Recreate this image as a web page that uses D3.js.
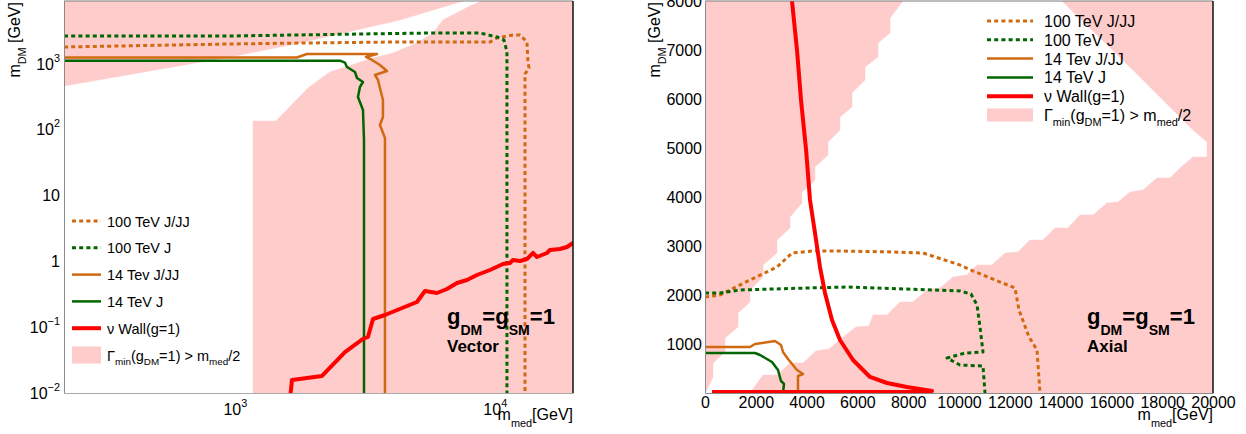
<!DOCTYPE html>
<html><head><meta charset="utf-8">
<script src="https://cdn.jsdelivr.net/npm/d3@7"></script>
<style>
body{margin:0;background:#fff}
text{font-family:"Liberation Sans",Arial,Helvetica,sans-serif;fill:#000}
</style>
</head><body>
<svg id="c" width="1246" height="434"></svg>
<script>
// ---------------- DATA ----------------
// Left panel (Vector), log-log, [m_med, m_DM] in GeV
const vecWidthRegionA = [[220,8800],[220,453],[957,1246],[1780,2032],[4317,4537],[7543,8800]];
const vecWidthRegionB = [[8928,8800],[8025,7392],[6320,4537],[5783,2879],[5018,2032],[4058,1432],[3399,1203],[2322,738],[1911,422],[1439,133],[1174,133],[1174,0.01],[20000,0.01],[20000,8800]];
const vec100JJJ = [[220,1766],[957,1962],[1894,2032],[4203,2104],[9583,2104],[10195,2421],[11750,2687],[12500,2687],[13298,2104],[13420,1046],[13550,849],[13070,688],[13070,0.01]];
const vec100J = [[220,2594],[957,2594],[3111,2782],[5630,2879],[8770,2879],[10195,2505],[10850,2256],[11140,1500],[11140,0.01]];
const vec14JJJ = [[220,1225],[1734,1225],[1894,1384],[3521,1384],[3194,1246],[3370,1122],[3615,943],[3847,764],[3459,665],[3553,558],[3615,422],[3713,277],[3713,153],[3615,116],[3780,73.6],[3780,0.01]];
const vec14J = [[220,1095],[2538,1095],[2652,1021],[2700,879],[2898,738],[2950,598],[3111,520],[3028,437],[2976,308],[3111,196],[3139,68.7],[3139,0.01]];
const vecNuWall = [[1629,0.008],[1658,0.01574],[2164,0.01811],[2652,0.04184],[3111,0.06591],[3252,0.07069],[3399,0.1325],[3780,0.1524],[5018,0.2399],[5388,0.3523],[5992,0.3285],[6548,0.3778],[7152,0.4658],[7816,0.5172],[8541,0.6158],[9583,0.7333],[10753,0.9045],[11440,0.9366],[11750,1.040],[12500,1.004],[13298,1.077],[14030,1.328],[14530,1.155],[15880,1.328],[16300,1.474],[17810,1.526],[18950,1.637],[20000,1.883]];

// Right panel (Axial), linear, [m_med, m_DM] in GeV
const axWidthRegionA = [[0,8000],[7795,8000],[7283,7653],[7283,7347],[6811,7143],[6811,6857],[6299,6653],[6299,6388],[5787,6122],[5787,5837],[5315,5633],[5315,5367],[4843,5122],[4843,4857],[4331,4612],[4331,4347],[3819,4102],[3819,3878],[3346,3592],[3346,3367],[2835,3122],[2835,2857],[2283,2612],[2283,2367],[1772,2102],[1772,1857],[1299,1633],[1299,1347],[787,1122],[787,837],[315,612],[315,327],[79,61],[0,0]];
const axWidthRegionB = [[1772,0],[2283,367],[2835,367],[3346,612],[3858,612],[4370,857],[4882,898],[5394,1122],[5945,1347],[6457,1367],[6614,1592],[7165,1592],[7677,1857],[8189,1857],[8740,2102],[9252,2143],[9764,2367],[10315,2408],[10709,2612],[11299,2612],[11811,2857],[12323,2878],[12795,3122],[13307,3122],[13780,3367],[14291,3367],[14764,3633],[15276,3633],[15827,3878],[16260,3898],[16732,4102],[17244,4143],[17795,4388],[18307,4388],[18701,4592],[19213,4816],[19764,4816],[19764,5122],[19213,5367],[16929,6551],[14055,8000],[20000,8000],[20000,0]];
const ax100JJJ = [[0,1959],[591,2000],[1772,2306],[2835,2571],[3425,2857],[4252,2898],[5315,2898],[7402,2878],[8583,2857],[10039,2612],[10551,2490],[12205,2143],[12362,1694],[12756,1143],[13071,878],[13189,0]];
const ax100J = [[0,2041],[591,2041],[1378,2102],[4016,2143],[5591,2163],[7953,2122],[10039,2082],[10472,2020],[10709,1796],[10827,1347],[10945,837],[10236,816],[9528,714],[10039,571],[10945,551],[11024,0]];
const ax14JJJ = [[0,939],[1772,939],[1969,1000],[2756,1061],[2992,980],[3071,837],[3268,694],[3622,469],[3858,388],[3661,347],[3661,0]];
const ax14J = [[0,816],[1969,816],[2165,776],[2638,633],[2874,469],[2992,245],[3110,184],[3071,0]];
const axNuWall = [[3425,8000],[3622,7000],[3780,5980],[3980,4960],[4134,3939],[4331,3265],[4528,2571],[4724,2041],[5000,1490],[5315,1082],[5827,673],[6496,327],[7165,204],[7953,122],[8937,41],[8500,25],[276,20]];

// Axis ticks
const leftXTicks = [1000, 10000];
const leftXTickLabels = [["10","3"],["10","4"]];
const leftYTicks = [0.01, 0.1, 1, 10, 100, 1000];
const leftYTickLabels = [["10","\u22122"],["10","\u22121"],["1",""],["10",""],["10","2"],["10","3"]];
const rightXTicks = [0,2000,4000,6000,8000,10000,12000,14000,16000,18000,20000];
const rightYTicks = [1000,2000,3000,4000,5000,6000,7000,8000];

// Legend
const legendLabels = ["100 TeV J/JJ","100 TeV J","14 Tev J/JJ","14 TeV J","\u03BD Wall(g=1)"];
const legendKeys = ["o100","g100","o14","g14","red"];

// ---------------- STYLE ----------------
const PINK = "#ffcccc", ORANGE = "#d0690f", GREEN = "#006600", RED = "#ff0000";
const styles = {
  o100:{stroke:ORANGE,width:3,dash:"4,3.2"},
  g100:{stroke:GREEN,width:3,dash:"4,3.2"},
  o14:{stroke:ORANGE,width:2.5,dash:null},
  g14:{stroke:GREEN,width:2.5,dash:null},
  red:{stroke:RED,width:4,dash:null}
};

const svg = d3.select("#c");

function rich(sel, parts, size, o){
  o = Object.assign({sub:0.35, sup:0.45, small:0.7}, o||{});
  sel.text(null);
  let cur = 0;
  parts.forEach(([s,k])=>{
    if(!s) return;
    const off = k==="sub" ? size*o.sub : k==="sup" ? -size*o.sup : 0;
    const fs = k==="n" ? size : size*o.small;
    sel.append("tspan").attr("dy", off-cur).style("font-size", fs+"px").text(s);
    cur = off;
  });
  return sel;
}

function drawPanel(cfg){
  const g = svg.append("g");
  const {x, y} = cfg;
  const [x0,x1] = x.range(), [y0,y1] = y.range();
  const clipId = "clip"+cfg.id;
  svg.append("defs").append("clipPath").attr("id",clipId)
    .append("rect").attr("x",x0).attr("y",y1).attr("width",x1-x0).attr("height",y0-y1);
  const plot = g.append("g").attr("clip-path",`url(#${clipId})`);
  const line = d3.line().x(d=>x(d[0])).y(d=>y(d[1]));
  cfg.regions.forEach(r=>{
    plot.append("path").attr("d", line(r)+"Z").attr("fill",PINK).attr("stroke",PINK).attr("stroke-width",0.5);
  });
  cfg.curves.forEach(([data,key])=>{
    const s = styles[key];
    plot.append("path").attr("d", line(data)).attr("fill","none")
      .attr("stroke",s.stroke).attr("stroke-width",s.width)
      .attr("stroke-dasharray",s.dash).attr("stroke-linejoin","round");
  });
  // frame
  g.append("line").attr("x1",x0).attr("x2",x1).attr("y1",y1).attr("y2",y1).attr("stroke","#7a7a7a").attr("stroke-width",1);
  g.append("line").attr("x1",x1).attr("x2",x1).attr("y1",y1).attr("y2",y0).attr("stroke","#111").attr("stroke-width",1.5);
  return g;
}

// ---------------- LEFT PANEL ----------------
const xL = d3.scaleLog().domain([220,20000]).range([64,573]);
const yL = d3.scaleLog().domain([0.01,8800]).range([393,1]);
const gL = drawPanel({id:"L", x:xL, y:yL,
  regions:[vecWidthRegionA, vecWidthRegionB],
  curves:[[vec100JJJ,"o100"],[vec100J,"g100"],[vec14JJJ,"o14"],[vec14J,"g14"],[vecNuWall,"red"]]});

const axLx = gL.append("g").attr("transform","translate(0,393)")
  .call(d3.axisBottom(xL).tickValues(leftXTicks).tickSize(0).tickFormat(""));
axLx.select(".domain").attr("stroke","#aaa");
axLx.selectAll(".tick text").each(function(d,i){
  const t = d3.select(this).attr("y",22).attr("dy",null).attr("text-anchor","middle");
  rich(t, [[leftXTickLabels[i][0],"n"],[leftXTickLabels[i][1],"sup"]], 16, {sup:0.5, small:0.68});
});
const axLy = gL.append("g").attr("transform","translate(64,0)")
  .call(d3.axisLeft(yL).tickValues(leftYTicks).tickSize(0).tickFormat(""));
axLy.select(".domain").attr("stroke","#8a8a8a");
axLy.selectAll(".tick text").each(function(d,i){
  const t = d3.select(this).attr("x",-4).attr("dy","0.36em").attr("text-anchor","end");
  rich(t, [[leftYTickLabels[i][0],"n"],[leftYTickLabels[i][1],"sup"]], 16, {sup:0.5, small:0.68});
  t.select("tspan").attr("dy","0.36em");
});
// axis titles
rich(gL.append("text").attr("transform","translate(20,2) rotate(-90)").attr("text-anchor","end"),
  [["m","n"],["DM","sub"],[" [GeV]","n"]], 16, {sub:0.4, small:0.68});
rich(gL.append("text").attr("x",573).attr("y",420).attr("text-anchor","end"),
  [["m","n"],["med","sub"],["[GeV]","n"]], 16, {sub:0.45, small:0.68});
// annotation
rich(gL.append("text").attr("x",447).attr("y",324).style("font-weight","bold"),
  [["g","n"],["DM","sub"],["=g","n"],["SM","sub"],["=1","n"]], 22, {sub:0.5, small:0.64});
gL.append("text").attr("x",447).attr("y",352).style("font-weight","bold").style("font-size","17px").text("Vector");

// ---------------- RIGHT PANEL ----------------
const xR = d3.scaleLinear().domain([0,20000]).range([705,1213]);
const yR = d3.scaleLinear().domain([0,8000]).range([393,1]);
const gR = drawPanel({id:"R", x:xR, y:yR,
  regions:[axWidthRegionA, axWidthRegionB],
  curves:[[ax100JJJ,"o100"],[ax100J,"g100"],[ax14JJJ,"o14"],[ax14J,"g14"],[axNuWall,"red"]]});

const axRx = gR.append("g").attr("transform","translate(0,393)")
  .call(d3.axisBottom(xR).tickValues(rightXTicks).tickSize(0).tickFormat(d3.format("d")));
axRx.select(".domain").attr("stroke","#8a8a8a");
axRx.selectAll(".tick text").attr("y",15).attr("dy",null).style("font-size","16px").style("font-family",null);
const axRy = gR.append("g").attr("transform","translate(705,0)")
  .call(d3.axisLeft(yR).tickValues(rightYTicks).tickSize(0).tickFormat(d3.format("d")));
axRy.select(".domain").attr("stroke","#8a8a8a");
axRy.selectAll(".tick text").attr("x",-3).attr("dy","0.36em").style("font-size","16px").style("font-family",null);
rich(gR.append("text").attr("transform","translate(660,2) rotate(-90)").attr("text-anchor","end"),
  [["m","n"],["DM","sub"],[" [GeV]","n"]], 16, {sub:0.4, small:0.68});
rich(gR.append("text").attr("x",1213).attr("y",420).attr("text-anchor","end"),
  [["m","n"],["med","sub"],["[GeV]","n"]], 16, {sub:0.45, small:0.68});
rich(gR.append("text").attr("x",1087).attr("y",324).style("font-weight","bold"),
  [["g","n"],["DM","sub"],["=g","n"],["SM","sub"],["=1","n"]], 22, {sub:0.5, small:0.64});
gR.append("text").attr("x",1087).attr("y",352).style("font-weight","bold").style("font-size","17px").text("Axial");

// ---------------- LEGENDS ----------------
function legend(cfg){
  const g = svg.append("g");
  legendKeys.forEach((k,i)=>{
    const s = styles[k], yy = cfg.y0 + i*cfg.dy;
    g.append("line").attr("x1",cfg.lx0).attr("x2",cfg.lx1).attr("y1",yy).attr("y2",yy)
      .attr("stroke",s.stroke).attr("stroke-width",s.width).attr("stroke-dasharray",s.dash);
    g.append("text").attr("x",cfg.tx).attr("y",yy+cfg.size*0.38).style("font-size",cfg.size+"px").text(legendLabels[i]);
  });
  const yb = cfg.y0 + 5*cfg.dy;
  g.append("rect").attr("x",cfg.lx0).attr("y",yb-cfg.bh/2).attr("width",cfg.lx1-cfg.lx0).attr("height",cfg.bh).attr("fill",PINK);
  rich(g.append("text").attr("x",cfg.tx).attr("y",yb+cfg.size*0.38),
    [["\u0393","n"],["min","sub"],["(g","n"],["DM","sub"],["=1) > m","n"],["med","sub"],["/2","n"]], cfg.size, {sub:0.32, small:0.68});
}
legend({lx0:72, lx1:101, tx:107, y0:221, dy:26.8, size:14.5, bh:17});
legend({lx0:987, lx1:1033, tx:1044, y0:21, dy:18.8, size:16, bh:13});
</script>
</body></html>
